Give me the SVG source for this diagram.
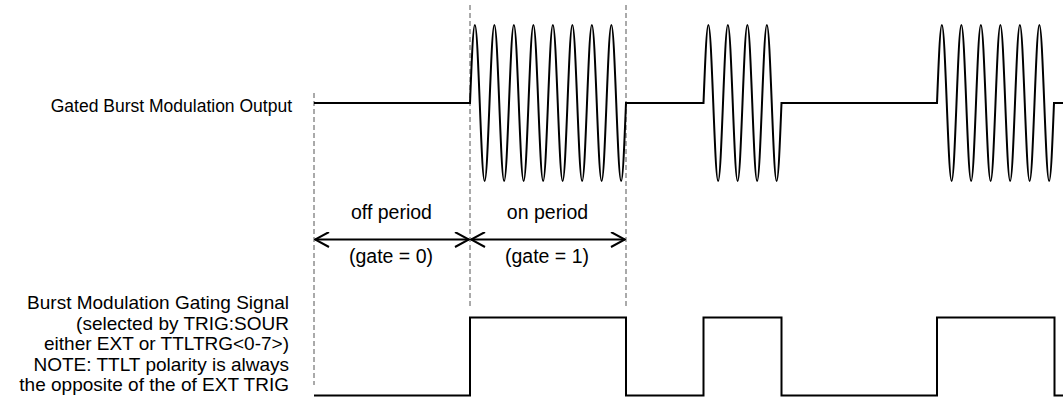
<svg xmlns="http://www.w3.org/2000/svg" width="1063" height="400" viewBox="0 0 1063 400">
<style>
text{font-family:"Liberation Sans",Arial,sans-serif;font-size:19px;fill:#000}
.lbl{text-anchor:end}
.out{font-size:17.5px}
.mid{text-anchor:middle;font-size:19.5px}
.wave{fill:none;stroke:#000;stroke-width:2;stroke-linejoin:miter}
.dash{fill:none;stroke:#555;stroke-width:1;stroke-dasharray:5,3}
.arr{fill:none;stroke:#000;stroke-width:2}
</style>
<defs>
<marker id="ah" viewBox="0 0 16 16" refX="15" refY="8" markerWidth="16" markerHeight="16" markerUnits="userSpaceOnUse" orient="auto-start-reverse">
<path d="M1,0.5 L15,8 L1,15.5" fill="none" stroke="#000" stroke-width="2"/>
</marker>
</defs>
<g id="label-output"><text class="lbl out" x="292" y="112">Gated Burst Modulation Output</text></g>
<g id="label-gate">
<text class="lbl" x="289" y="309">Burst Modulation Gating Signal</text>
<text class="lbl" x="289" y="329.5">(selected by TRIG:SOUR</text>
<text class="lbl" x="289" y="350">either EXT or TTLTRG&lt;0-7&gt;)</text>
<text class="lbl" x="289" y="370.5">NOTE: TTLT polarity is always</text>
<text class="lbl" x="289" y="391">the opposite of the of EXT TRIG</text>
</g>
<g id="guides">
<line class="dash" x1="314" y1="93" x2="314" y2="385"/>
<line class="dash" x1="470" y1="5" x2="470" y2="307"/>
<line class="dash" x1="626" y1="5" x2="626" y2="307"/>
</g>
<g id="output-wave">
<path class="wave" d="M314,103 H470
c1.59,-39.96 3.111,-78 4.875,-78 c1.764,0 3.285,38.04 4.875,78 c1.59,39.96 3.111,78 4.875,78 c1.764,0 3.285,-38.04 4.875,-78
c1.59,-39.96 3.111,-78 4.875,-78 c1.764,0 3.285,38.04 4.875,78 c1.59,39.96 3.111,78 4.875,78 c1.764,0 3.285,-38.04 4.875,-78
c1.59,-39.96 3.111,-78 4.875,-78 c1.764,0 3.285,38.04 4.875,78 c1.59,39.96 3.111,78 4.875,78 c1.764,0 3.285,-38.04 4.875,-78
c1.59,-39.96 3.111,-78 4.875,-78 c1.764,0 3.285,38.04 4.875,78 c1.59,39.96 3.111,78 4.875,78 c1.764,0 3.285,-38.04 4.875,-78
c1.59,-39.96 3.111,-78 4.875,-78 c1.764,0 3.285,38.04 4.875,78 c1.59,39.96 3.111,78 4.875,78 c1.764,0 3.285,-38.04 4.875,-78
c1.59,-39.96 3.111,-78 4.875,-78 c1.764,0 3.285,38.04 4.875,78 c1.59,39.96 3.111,78 4.875,78 c1.764,0 3.285,-38.04 4.875,-78
c1.59,-39.96 3.111,-78 4.875,-78 c1.764,0 3.285,38.04 4.875,78 c1.59,39.96 3.111,78 4.875,78 c1.764,0 3.285,-38.04 4.875,-78
c1.59,-39.96 3.111,-78 4.875,-78 c1.764,0 3.285,38.04 4.875,78 c1.59,39.96 3.111,78 4.875,78 c1.764,0 3.285,-38.04 4.875,-78
H703.5
c1.59,-39.96 3.111,-78 4.875,-78 c1.764,0 3.285,38.04 4.875,78 c1.59,39.96 3.111,78 4.875,78 c1.764,0 3.285,-38.04 4.875,-78
c1.59,-39.96 3.111,-78 4.875,-78 c1.764,0 3.285,38.04 4.875,78 c1.59,39.96 3.111,78 4.875,78 c1.764,0 3.285,-38.04 4.875,-78
c1.59,-39.96 3.111,-78 4.875,-78 c1.764,0 3.285,38.04 4.875,78 c1.59,39.96 3.111,78 4.875,78 c1.764,0 3.285,-38.04 4.875,-78
c1.59,-39.96 3.111,-78 4.875,-78 c1.764,0 3.285,38.04 4.875,78 c1.59,39.96 3.111,78 4.875,78 c1.764,0 3.285,-38.04 4.875,-78
H937
c1.59,-39.96 3.111,-78 4.875,-78 c1.764,0 3.285,38.04 4.875,78 c1.59,39.96 3.111,78 4.875,78 c1.764,0 3.285,-38.04 4.875,-78
c1.59,-39.96 3.111,-78 4.875,-78 c1.764,0 3.285,38.04 4.875,78 c1.59,39.96 3.111,78 4.875,78 c1.764,0 3.285,-38.04 4.875,-78
c1.59,-39.96 3.111,-78 4.875,-78 c1.764,0 3.285,38.04 4.875,78 c1.59,39.96 3.111,78 4.875,78 c1.764,0 3.285,-38.04 4.875,-78
c1.59,-39.96 3.111,-78 4.875,-78 c1.764,0 3.285,38.04 4.875,78 c1.59,39.96 3.111,78 4.875,78 c1.764,0 3.285,-38.04 4.875,-78
c1.59,-39.96 3.111,-78 4.875,-78 c1.764,0 3.285,38.04 4.875,78 c1.59,39.96 3.111,78 4.875,78 c1.764,0 3.285,-38.04 4.875,-78
c1.59,-39.96 3.111,-78 4.875,-78 c1.764,0 3.285,38.04 4.875,78 c1.59,39.96 3.111,78 4.875,78 c1.764,0 3.285,-38.04 4.875,-78
H1063"/>
</g>
<g id="gate-wave">
<path class="wave" d="M314,395.5 H470 V317.5 H626 V395.5 H703.5 V317.5 H781.5 V395.5 H937 V317.5 H1054.5 V395.5 H1063"/>
</g>
<g id="connectors">
<line class="arr" x1="315" y1="239.5" x2="469" y2="239.5" marker-start="url(#ah)" marker-end="url(#ah)"/>
<line class="arr" x1="471" y1="239.5" x2="625" y2="239.5" marker-start="url(#ah)" marker-end="url(#ah)"/>
</g>
<g id="period-labels">
<text class="mid" x="391.5" y="219">off period</text>
<text class="mid" x="391" y="263">(gate = 0)</text>
<text class="mid" x="547.5" y="219">on period</text>
<text class="mid" x="547" y="263">(gate = 1)</text>
</g>
</svg>
